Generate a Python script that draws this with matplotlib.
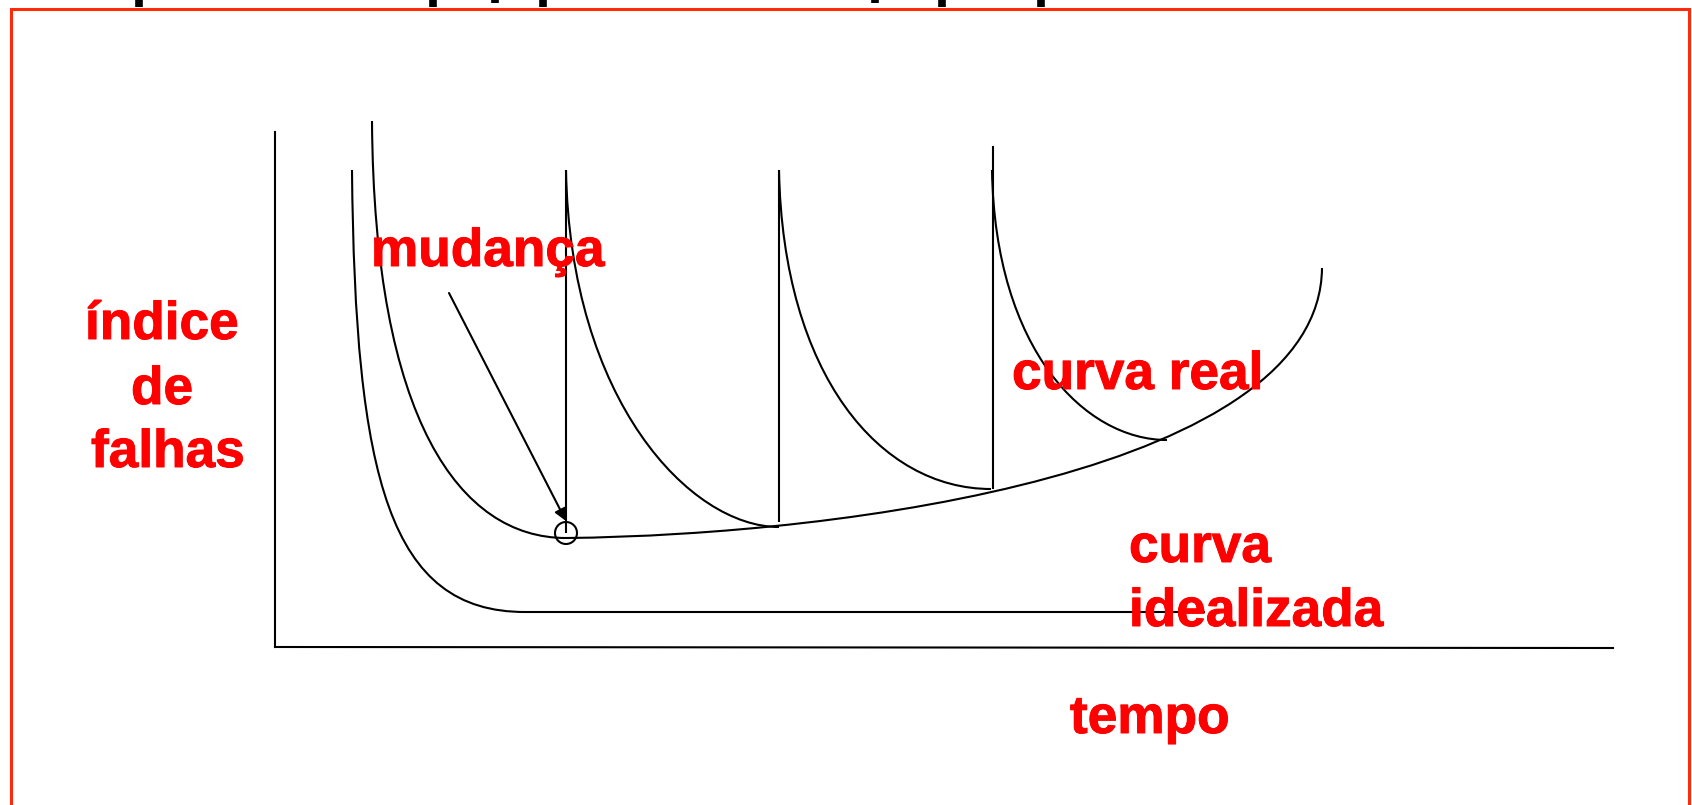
import matplotlib
matplotlib.use("Agg")
import matplotlib.pyplot as plt
import matplotlib.patches as patches
import matplotlib.patheffects as pe
from matplotlib.path import Path

# everything is in picture pixels (x right, y down)
img_width = 1692
img_height = 805

# bezier control points
ideal_curve = [(352, 170), (355, 480), (390, 612), (525, 612)]
ideal_flat_end = (1205, 612)
first_curve = [(372, 121), (374, 420), (460, 538), (566, 538)]
wear_curve = [(566, 538), (850, 535), (1320, 470), (1322, 268)]
saw_curves = [
    [(566, 170), (570, 400), (690, 527), (779, 527)],
    [(779, 170), (783, 375), (880, 489), (991, 489)],
    [(992, 170), (995, 350), (1085, 440), (1167, 440)],
]

# vertical jumps (maintenance / change)
jump_x = [566, 779, 992.5]
jump_top = [170, 170, 146]
jump_bottom = [533, 522, 489]

# axes of the sketch
y_axis = [(275, 132), (275, 647)]
x_axis = [(275, 647), (1613, 648)]

# the change marker
change_point = (566, 533)
arrow_from = (449, 293)
arrow_to = (566, 521)

# bits of the cut-off heading at the top
frag_x = [139, 433, 495, 542.5, 874.5, 942, 1040.5]
frag_bottom = [7, 7, 3, 7, 3, 7, 7]

labels = ["mudança", "índice", "de", "falhas", "curva real", "curva", "idealizada", "tempo"]
label_x = [371, 85, 131, 91, 1012, 1129, 1129, 1070]
label_y = [266, 339, 404, 467, 389, 562, 626, 733]

red = "#ff0000"
frame_red = "#ff2a0a"


def bezier(ax, pts, extra=None):
    verts = list(pts)
    codes = [Path.MOVETO, Path.CURVE4, Path.CURVE4, Path.CURVE4]
    if extra is not None:
        verts.append(extra)
        codes.append(Path.LINETO)
    patch = patches.PathPatch(Path(verts, codes), fill=False, lw=1.5, edgecolor="black", capstyle="butt")
    ax.add_patch(patch)


fig = plt.figure(figsize=(img_width / 100, img_height / 100), dpi=100)
ax = fig.add_axes([0, 0, 1, 1])
ax.set_xlim(0, img_width)
ax.set_ylim(img_height, 0)
ax.axis("off")

# frame of the slide
ax.plot([10.5, 10.5, 1689, 1689], [img_height + 5, 8.7, 8.7, img_height + 5], color=frame_red, lw=2.2, solid_joinstyle="miter")

ax.vlines(frag_x, 0, frag_bottom, color="black", lw=5.5)

ax.plot([p[0] for p in y_axis], [p[1] for p in y_axis], color="black", lw=1.5)
ax.plot([p[0] for p in x_axis], [p[1] for p in x_axis], color="black", lw=1.5)

bezier(ax, ideal_curve, ideal_flat_end)
bezier(ax, first_curve)
bezier(ax, wear_curve)
for c in saw_curves:
    bezier(ax, c)

ax.vlines(jump_x, jump_top, jump_bottom, color="black", lw=1.5)

ax.add_patch(patches.Circle(change_point, 11, fill=False, lw=1.5, edgecolor="black"))
ax.annotate("", xy=arrow_to, xytext=arrow_from,
            arrowprops=dict(arrowstyle="-|>", color="black", lw=1.5, mutation_scale=18, shrinkA=0, shrinkB=0))

for txt, x, y in zip(labels, label_x, label_y):
    ax.text(x, y, txt, color=red, fontsize=38.3, fontweight="bold", family="Liberation Sans",
            ha="left", va="baseline",
            path_effects=[pe.withStroke(linewidth=0.7, foreground=red)])

plt.savefig("out.png", dpi=100)
